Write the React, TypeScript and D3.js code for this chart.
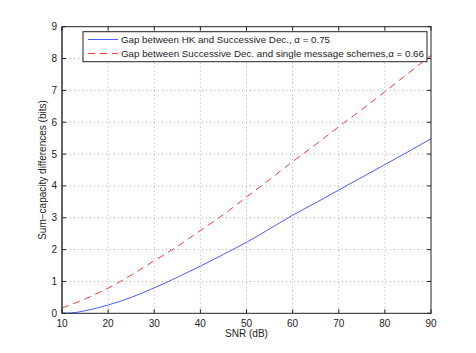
import React from "react";
import * as d3 from "d3";

const snr = [10, 12, 15, 20, 25, 30, 35, 40, 45, 50, 55, 60, 65, 70, 75, 80, 85, 90];
const gapHK = [0, 0.01, 0.08, 0.26, 0.5, 0.8, 1.13, 1.48, 1.85, 2.23, 2.65, 3.08, 3.47, 3.87, 4.27, 4.67, 5.07, 5.48];
const snrRed = [10, 15, 20, 25, 30, 35, 40, 45, 50, 55, 60, 65, 70, 75, 80, 85, 90];
const gapSD = [0.17, 0.45, 0.79, 1.2, 1.65, 2.1, 2.6, 3.1, 3.65, 4.2, 4.76, 5.3, 5.86, 6.4, 6.96, 7.53, 8.1];
const xTicks = [10, 20, 30, 40, 50, 60, 70, 80, 90];
const yTicks = [0, 1, 2, 3, 4, 5, 6, 7, 8, 9];
const legendLabels = [
  "Gap between HK and Successive Dec., \u03b1 = 0.75",
  "Gap between Successive Dec. and single message schemes,\u03b1 = 0.66",
];

export default function App() {
  const W = 476, H = 353;
  const L = 62, R = 431, T = 26.7, B = 313.3;
  const x = d3.scaleLinear().domain([10, 90]).range([L, R]);
  const y = d3.scaleLinear().domain([0, 9]).range([B, T]);
  const line = d3.line<[number, number]>().x(d => x(d[0])).y(d => y(d[1])).curve(d3.curveMonotoneX);
  const blue = line(snr.map((s, i) => [s, gapHK[i]] as [number, number]))!;
  const red = line(snrRed.map((s, i) => [s, gapSD[i]] as [number, number]))!;
  const font = "Liberation Sans, Arial, sans-serif";
  return (
    <div style={{ position: "absolute", left: 0, top: 0 }}>
      <svg width={W} height={H} style={{ display: "block", background: "#fff" }} fontFamily={font}>
        <rect x={0} y={0} width={W} height={H} fill="#fff" />
        {xTicks.slice(1, -1).map(t => (
          <line key={"gx" + t} x1={x(t)} x2={x(t)} y1={T} y2={B} stroke="#999" strokeWidth={0.8} strokeDasharray="1,3" />
        ))}
        {yTicks.slice(1, -1).map(t => (
          <line key={"gy" + t} x1={L} x2={R} y1={y(t)} y2={y(t)} stroke="#999" strokeWidth={0.8} strokeDasharray="1,3" />
        ))}
        <path d={blue} fill="none" stroke="#4a5cff" strokeWidth={1} />
        <path d={red} fill="none" stroke="#ff3838" strokeWidth={1} strokeDasharray="7,5" />
        <rect x={L} y={T} width={R - L} height={B - T} fill="none" stroke="#222" strokeWidth={1} />
        <line x1={L} x2={L} y1={T} y2={B} stroke="#555" strokeWidth={1.5} />
        {xTicks.map(t => (
          <g key={"tx" + t}>
            <line x1={x(t)} x2={x(t)} y1={B} y2={B - 4} stroke="#222" />
            <line x1={x(t)} x2={x(t)} y1={T} y2={T + 4} stroke="#222" />
            <text x={x(t)} y={B + 14} textAnchor="middle" fontSize={10} fill="#222">{t}</text>
          </g>
        ))}
        {yTicks.map(t => (
          <g key={"ty" + t}>
            <line x1={L} x2={L + 4} y1={y(t)} y2={y(t)} stroke="#222" />
            <line x1={R} x2={R - 4} y1={y(t)} y2={y(t)} stroke="#222" />
            <text x={L - 5} y={y(t) + 3.5} textAnchor="end" fontSize={10} fill="#222">{t}</text>
          </g>
        ))}
        <text x={(L + R) / 2} y={337} textAnchor="middle" fontSize={10} fill="#222">SNR (dB)</text>
        <text transform={`translate(46,${(T + B) / 2}) rotate(-90)`} textAnchor="middle" fontSize={10} fill="#222">
          Sum−capacity differences (bits)
        </text>
        <rect x={83} y={31.7} width={344} height={30} fill="#fff" stroke="#222" strokeWidth={1} />
        <line x1={88} x2={118} y1={39.5} y2={39.5} stroke="#4a5cff" />
        <line x1={88} x2={118} y1={53.5} y2={53.5} stroke="#ff3838" strokeDasharray="7,5" />
        <text x={121} y={43} fontSize={9.8} fill="#222" textLength={209} lengthAdjust="spacingAndGlyphs">{legendLabels[0]}</text>
        <text x={121} y={57} fontSize={9.8} fill="#222" textLength={303} lengthAdjust="spacingAndGlyphs">{legendLabels[1]}</text>
      </svg>
    </div>
  );
}
